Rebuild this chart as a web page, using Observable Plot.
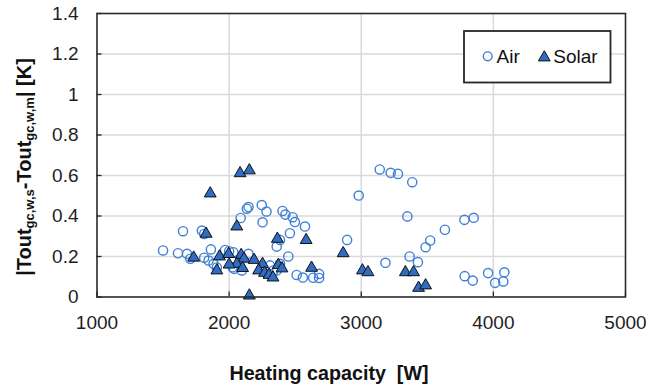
<!DOCTYPE html>
<html>
<head>
<meta charset="utf-8">
<script src="https://cdn.jsdelivr.net/npm/d3@7"></script>
<script src="https://cdn.jsdelivr.net/npm/@observablehq/plot@0.6"></script>
<style>
  html, body { margin: 0; padding: 0; background: #fff; }
  #chart { width: 646px; height: 384px; }
</style>
</head>
<body>
<div id="chart"></div>
<script>
// ---- Data ----
const airX = [1500,1613,1681,1706,1651,1794,1811,1862,1811,1844,1882,1907,1970,2032,2146,2038,2096,2000,2025,
  2087,2134,2147,2247,2283,2253,2404,2426,2481,2498,2574,2460,2360,2385,2448,2309,2334,2385,2360,2511,2558,2636,2681,2681,
  2981,3140,3223,3278,3386,3349,2893,3183,3366,3429,3487,3522,3633,3781,3851,3783,3844,3960,4013,4075,4083];
const airY = [0.230,0.216,0.213,0.189,0.325,0.328,0.311,0.235,0.194,0.180,0.164,0.146,0.232,0.221,0.213,0.139,0.131,0.226,0.147,
  0.390,0.436,0.444,0.454,0.422,0.369,0.425,0.407,0.394,0.370,0.348,0.315,0.249,0.282,0.200,0.156,0.131,0.164,0.131,0.109,0.096,0.095,0.114,0.094,
  0.501,0.630,0.613,0.608,0.567,0.398,0.282,0.169,0.200,0.172,0.246,0.279,0.332,0.381,0.391,0.103,0.081,0.118,0.070,0.077,0.122];

const solarX = [2083,2153,1857,2058,1826,2365,2583,1732,1927,1996,2091,2113,2189,2253,2058,2000,2102,1907,2223,2268,2302,2332,2372,2400,2624,2863,2153,
  3009,3051,3334,3396,3434,3487];
const solarY = [0.611,0.625,0.511,0.348,0.312,0.287,0.281,0.194,0.200,0.212,0.207,0.189,0.183,0.163,0.163,0.160,0.143,0.131,0.131,0.119,0.109,0.096,0.158,0.141,0.144,0.216,0.007,
  0.131,0.122,0.122,0.122,0.045,0.057];

const xTicks = [1000, 2000, 3000, 4000, 5000];
const yTicks = [0, 0.2, 0.4, 0.6, 0.8, 1, 1.2, 1.4];
const seriesNames = ["Air", "Solar"];
const xTitle = "Heating capacity  [W]";

const air = airX.map((x, i) => ({x, y: airY[i]}));
const solar = solarX.map((x, i) => ({x, y: solarY[i]}));

const FONT = "'Liberation Sans', Arial, sans-serif";
const AIR_STROKE = "#3f7fd6";
const SOLAR_FILL = "#2f6cc3";

const chart = Plot.plot({
  width: 646,
  height: 384,
  marginLeft: 96.5,
  marginRight: 21,
  marginTop: 13,
  marginBottom: 87.5,
  style: {fontFamily: FONT, fontSize: "19px", color: "#1e1e1e", background: "white", overflow: "visible"},
  x: {domain: [1000, 5000]},
  y: {domain: [0, 1.4]},
  marks: [
    Plot.gridX(xTicks, {stroke: "#d9d9d9", strokeOpacity: 1, strokeWidth: 1.5}),
    Plot.gridY(yTicks, {stroke: "#d9d9d9", strokeOpacity: 1, strokeWidth: 1.5}),
    Plot.axisX({ticks: xTicks, tickSize: 0, tickPadding: 18.5, tickFormat: d => String(d), fontSize: 19, label: null}),
    Plot.axisY({ticks: yTicks, tickSize: 0, tickPadding: 18.5, tickFormat: d => String(d), fontSize: 19, label: null}),
    Plot.axisX({ticks: xTicks, tickSize: 5, dy: -5, text: null, label: null, stroke: "#262626", strokeWidth: 1.3}),
    Plot.axisY({ticks: yTicks, tickSize: 5, dx: 5, text: null, label: null, stroke: "#262626", strokeWidth: 1.3}),
    Plot.dot(air, {x: "x", y: "y", r: 4.6, stroke: AIR_STROKE, strokeWidth: 1.4, fill: "none"}),
    Plot.dot(solar, {x: "x", y: "y", symbol: "triangle", r: 4.4, fill: SOLAR_FILL, stroke: "#111", strokeWidth: 1}),
    Plot.frame({stroke: "#262626", strokeWidth: 1.5})
  ]
});

document.getElementById("chart").appendChild(chart);

const svg = d3.select(chart);

// Y axis title with subscripts
const yt = svg.append("text")
  .attr("transform", "translate(30.5,167) rotate(-90)")
  .attr("text-anchor", "middle")
  .attr("fill", "#111")
  .style("font-family", FONT)
  .style("font-weight", "bold")
  .style("font-size", "20px");
yt.append("tspan").text("|Tout");
yt.append("tspan").attr("dy", 3).style("font-size", "13px").text("gc,w,s");
yt.append("tspan").attr("dy", -3).text("-Tout");
yt.append("tspan").attr("dy", 3).style("font-size", "13px").text("gc,w,m");
yt.append("tspan").attr("dy", -3).text("| [K]");

// X axis title
svg.append("text")
  .attr("x", 329)
  .attr("y", 380)
  .attr("text-anchor", "middle")
  .attr("fill", "#111")
  .style("font-family", FONT)
  .style("font-weight", "bold")
  .style("font-size", "19.7px")
  .style("white-space", "pre")
  .attr("xml:space", "preserve")
  .text(xTitle);

// Legend
const lg = svg.append("g").attr("text-anchor", "start");
lg.append("rect").attr("x", 464).attr("y", 31).attr("width", 146.5).attr("height", 51.5)
  .attr("fill", "white").attr("stroke", "#262626").attr("stroke-width", 1.8);
lg.append("circle").attr("cx", 487.7).attr("cy", 56.3).attr("r", 4.4)
  .attr("fill", "none").attr("stroke", AIR_STROKE).attr("stroke-width", 1.4);
lg.append("text").attr("x", 496.5).attr("y", 63.3).attr("fill", "#111").attr("text-anchor", "start")
  .style("font-family", FONT).style("font-size", "19px").text(seriesNames[0]);
lg.append("path").attr("d", d3.symbol(d3.symbolTriangle, 60)()).attr("transform", "translate(544.3,57.5)")
  .attr("fill", SOLAR_FILL).attr("stroke", "#111").attr("stroke-width", 1);
lg.append("text").attr("x", 553.3).attr("y", 63.3).attr("fill", "#111").attr("text-anchor", "start")
  .style("font-family", FONT).style("font-size", "19px").text(seriesNames[1]);
</script>
</body>
</html>
